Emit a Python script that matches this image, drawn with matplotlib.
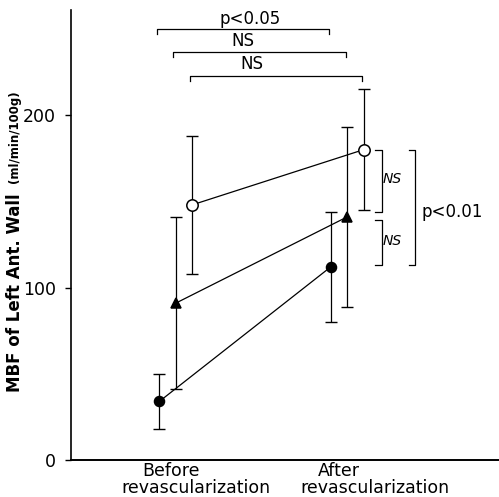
import matplotlib.pyplot as plt
import numpy as np

# MBF of left anterior wall (ml/min/100g), before / after revascularization
phases = ['Before', 'After']
filled_mean = [34, 112]
filled_sd = [16, 32]
tri_mean = [91, 141]
tri_sd = [50, 52]
open_mean = [148, 180]
open_sd = [40, 35]

yticks = [0, 100, 200]

fig = plt.figure(figsize=(4.99, 4.97), dpi=100)
ax = fig.add_axes([71/499, 1 - 460/497, 1 - 71/499, (460 - 10)/497])

xc = np.arange(1, len(phases) + 1)
off = 0.096
groups = [
    (xc - off, filled_mean, filled_sd, dict(marker='o', mfc='black', ms=7.2)),
    (xc, tri_mean, tri_sd, dict(marker='^', mfc='black', ms=7.5)),
    (xc + off, open_mean, open_sd, dict(marker='o', mfc='white', ms=8.2)),
]
for x, m, sd, style in groups:
    ax.errorbar(x, m, yerr=sd, fmt='none', ecolor='black', elinewidth=0.9,
                capsize=4.6, capthick=1.0, zorder=2)
    ax.plot(x, m, color='black', lw=0.9, mec='black', mew=1.1, zorder=3, **style)

ax.set_xlim(0.388, 2.886)
ax.set_ylim(0, 261)
ax.set_yticks(yticks)
ax.set_yticklabels([str(v) for v in yticks], fontsize=12.5)
ax.tick_params(axis='y', length=4, width=1, pad=7)
ax.set_xticks([])
for s in ['top', 'right']:
    ax.spines[s].set_visible(False)
ax.spines['left'].set_linewidth(1.2)
ax.spines['bottom'].set_linewidth(1.4)

# category labels, two lines each
ax.text(0.97, -9.4, 'Before', ha='center', va='baseline', fontsize=12.5, clip_on=False)
ax.text(1.12, -19.0, 'revascularization', ha='center', va='baseline', fontsize=12.5, clip_on=False)
ax.text(1.95, -9.4, 'After', ha='center', va='baseline', fontsize=12.5, clip_on=False)
ax.text(2.16, -19.0, 'revascularization', ha='center', va='baseline', fontsize=12.5, clip_on=False)

# comparison brackets across phases (top)
top_y = [249.9, 236.5, 222.6]
top_txt = [('p<0.05', 1.431, 255.7), ('NS', 1.39, 242.9), ('NS', 1.443, 229.6)]
for (x, m, sd, st), yb, (t, tx, ty) in zip(groups, top_y, top_txt):
    x0, x1 = x[0] - 0.014, x[1] - 0.008
    ax.plot([x0, x0, x1, x1], [yb - 2.6, yb, yb, yb - 2.6], color='black', lw=0.9,
            clip_on=False)
    ax.text(tx, ty, t, ha='center', va='center', fontsize=12)

# comparison brackets after revascularization (right side)
def vbracket(x, xt, y0, y1):
    ax.plot([xt, x, x, xt], [y0, y0, y1, y1], color='black', lw=0.9, clip_on=False)

vbracket(2.201, 2.160, open_mean[1], tri_mean[1] + 3)
vbracket(2.201, 2.160, tri_mean[1] - 2, filled_mean[1] + 1)
vbracket(2.394, 2.359, open_mean[1], filled_mean[1] + 1)
ax.text(2.265, 163, 'NS', ha='center', va='center', fontsize=10, style='italic')
ax.text(2.265, 127, 'NS', ha='center', va='center', fontsize=10, style='italic')
ax.text(2.435, 144, 'p<0.01', ha='left', va='center', fontsize=12)

# y label
fig.text(15/499, 1 - 392/497, 'MBF of Left Ant. Wall', rotation=90, ha='center',
         va='bottom', fontsize=12, fontweight='bold')
fig.text(15/499, 1 - 183/497, '(ml/min/100g)', rotation=90, ha='center',
         va='bottom', fontsize=8.5, fontweight='bold')

fig.savefig('out.png', dpi=100)
